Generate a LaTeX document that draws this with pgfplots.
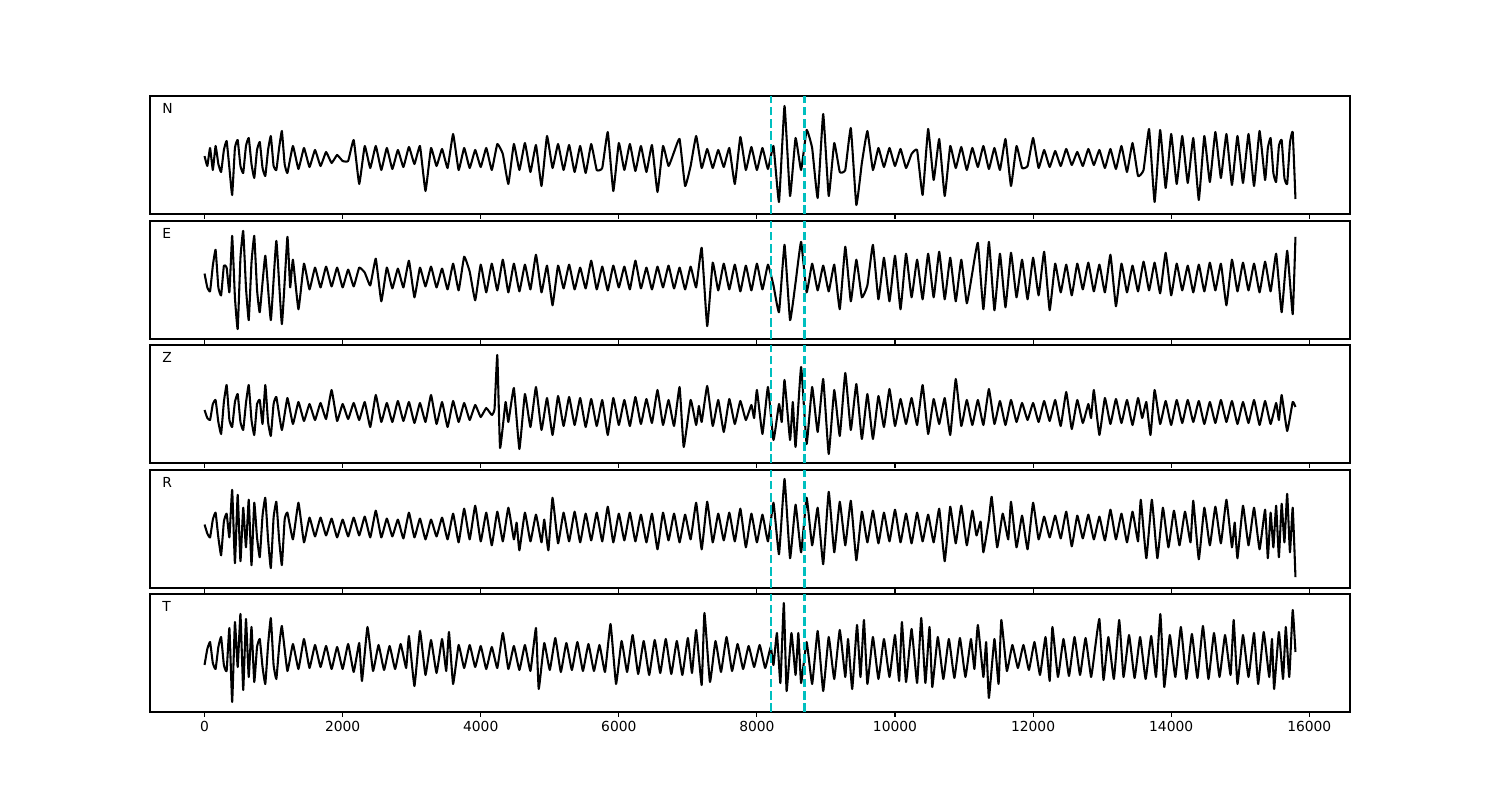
\documentclass[border=0pt]{standalone}
\usepackage{fontspec}
\setmainfont{DejaVu Sans}
\usepackage{pgfplots}
\pgfplotsset{compat=1.18}
\definecolor{vline}{rgb}{0,0.75,0.75}
\pgfplotsset{
 panel/.style={
  anchor=south west, scale only axis, width=12in, height=1.18in,
  xmin=-790, xmax=16590, xtick={0,2000,4000,6000,8000,10000,12000,14000,16000},
  scaled x ticks=false,
  ytick=\empty, xtick pos=left, tick align=outside, major tick length=3.5pt,
  every tick/.style={black, line width=0.8pt},
  axis line style={line width=0.8pt},
  tick label style={font=\fontsize{10}{12}\selectfont},
  /pgf/number format/assume math mode=true,
  /pgf/number format/1000 sep={},
 },
 nolabels/.style={xticklabels={}},
 trace/.style={black, line width=1.5pt, line join=round, mark=none, smooth, tension=0.2},
 marker/.style={vline, line width=1.6pt, dash pattern=on 6.3pt off 2.6pt},
}
\newcommand{\plabel}[1]{\node[anchor=base west, inner sep=0pt, font=\fontsize{10}{12}\selectfont] at (rel axis cs:0.01,0.85) {#1};}
\begin{document}
\begin{tikzpicture}
\path[use as bounding box] (0,0) rectangle (15in,8in);
% ---------------- N
\begin{axis}[panel, nolabels, at={(1.5in,5.86in)}, ymin=-56, ymax=62]
\addplot[trace] coordinates {
(0,2)(40,-8)(80,10)(120,-12)(160,12)(200,-6)(240,-14)(280,8)(320,17)(360,-10)(400,-37)(440,10)(480,18)(520,-8)(560,-15)(600,12)(640,20)(680,-6)(720,-20)
(760,8)(800,16)(840,-10)(880,-18)(920,8)(960,22)(1000,-8)(1040,-12)(1080,10)(1120,27)(1160,-6)(1200,-15)(1280,12)(1360,-11)(1440,10)(1520,-9)
(1600,8)(1680,-8)(1760,6)(1840,-5)(1920,3)(2000,-3)(2080,-3)(2160,18)(2240,-26)(2320,12)
(2400,-10)(2480,12)(2560,-12)(2640,10)(2720,-11)(2800,8)(2880,-9)(2960,11)(3040,-6)(3120,12)
(3200,-33)(3280,10)(3360,-8)(3440,9)(3520,-10)(3600,24)(3680,-12)(3760,10)(3840,-10)(3920,8)
(4000,-9)(4080,10)(4160,-12)(4240,14)(4320,4)(4400,-26)(4480,14)(4560,-12)(4640,15)(4720,-14)
(4800,13)(4880,-28)(4960,22)(5040,-10)(5120,14)(5200,-12)(5280,13)(5360,-14)(5440,12)(5520,-15)
(5600,14)(5680,-12)(5760,-10)(5840,26)(5920,-33)(6000,15)(6080,-12)(6160,14)(6240,-13)(6320,12)
(6400,-14)(6480,13)(6560,-34)(6640,12)(6720,-8)(6800,6)(6880,19)(6960,-28)(7040,-8)(7120,22)
(7200,-10)(7280,9)(7360,-10)(7440,8)(7520,-9)(7600,10)(7680,-26)(7760,21)(7840,-12)(7920,11)
(8000,-12)(8080,10)(8160,-11)(8240,12)(8320,-44)(8400,52)(8480,-38)(8560,20)(8640,-12)(8720,28)
(8800,10)(8880,-40)(8960,44)(9040,-38)(9120,15)(9200,-14)(9280,-12)(9360,30)(9440,-47)(9520,-5)
(9600,27)(9680,-12)(9760,10)(9840,-9)(9920,10)(10000,-8)(10080,9)(10160,-10)(10240,4)(10320,8)
(10400,-37)(10480,29)(10560,-22)(10640,19)(10720,-38)(10800,12)(10880,-10)(10960,11)(11040,-12)(11120,10)
(11200,-9)(11280,12)(11360,-11)(11440,10)(11520,-12)(11600,19)(11680,-28)(11760,12)(11840,-10)(11920,-8)
(12000,20)(12080,-10)(12160,8)(12240,-9)(12320,7)(12400,-8)(12480,9)(12560,-7)(12640,6)(12720,-8)
(12800,9)(12880,-7)(12960,8)(13040,-10)(13120,9)(13200,-11)(13280,12)(13360,-14)(13440,15)(13520,-18)
(13600,-12)(13680,29)(13760,-44)(13840,28)(13920,-30)(14000,24)(14080,-26)(14160,22)(14240,-25)(14320,20)
(14400,-42)(14480,22)(14560,-24)(14640,26)(14720,-20)(14800,24)(14880,-27)(14960,22)(15040,-25)(15120,24)
(15200,-28)(15280,27)(15360,-22)(15400,10)(15440,20)(15480,-15)(15520,-24)(15560,12)(15600,18)(15640,-20)(15680,-26)(15720,15)(15760,26)(15800,-41)
};
\addplot[marker] coordinates {(8200,-56)(8200,62)};
\addplot[marker] coordinates {(8690,-56)(8690,62)};
\plabel{N}
\end{axis}
% ---------------- E
\begin{axis}[panel, nolabels, at={(1.5in,4.61in)}, ymin=-62, ymax=57]
\addplot[trace] coordinates {
(0,4)(40,-10)(80,-14)(120,12)(160,28)(200,-10)(240,-18)(280,12)(320,10)(360,-15)(400,42)(440,-20)(480,-52)(520,20)(560,47)(600,-10)(640,-43)(680,15)(720,42)
(760,-12)(800,-35)(880,22)(960,-43)(1040,37)(1120,-47)(1200,41)(1240,-10)(1280,18)(1360,-32)(1440,14)(1520,-12)
(1600,10)(1680,-10)(1760,11)(1840,-9)(1920,10)(2000,-10)(2080,8)(2160,-9)(2240,10)(2320,5)
(2400,-8)(2480,19)(2560,-24)(2640,10)(2720,-11)(2800,9)(2880,-10)(2960,17)(3040,-20)(3120,10)
(3200,-9)(3280,11)(3360,-10)(3440,9)(3520,-12)(3600,14)(3680,-13)(3760,21)(3840,6)(3920,-23)
(4000,13)(4080,-15)(4160,14)(4240,-13)(4320,18)(4400,-15)(4480,14)(4560,-14)(4640,13)(4720,-12)
(4800,23)(4880,-15)(4960,12)(5040,-28)(5120,12)(5200,-11)(5280,13)(5360,-12)(5440,10)(5520,-11)
(5600,17)(5680,-12)(5760,11)(5840,-13)(5920,12)(6000,-10)(6080,11)(6160,-12)(6240,17)(6320,-11)
(6400,10)(6480,-12)(6560,11)(6640,-10)(6720,12)(6800,-11)(6880,10)(6960,-12)(7040,11)(7120,-10)
(7200,30)(7280,-49)(7360,15)(7440,-13)(7520,14)(7600,-12)(7680,13)(7760,-14)(7840,12)(7920,-13)
(8000,14)(8080,-12)(8160,13)(8240,-8)(8320,-35)(8400,33)(8480,-43)(8560,-5)(8640,36)(8720,-15)
(8800,14)(8880,-13)(8960,12)(9040,-14)(9120,13)(9200,-32)(9280,31)(9360,-24)(9440,18)(9520,-20)
(9600,-8)(9680,33)(9760,-22)(9840,20)(9920,-24)(10000,22)(10080,-32)(10160,24)(10240,-20)(10320,18)
(10400,-22)(10480,24)(10560,-20)(10640,26)(10720,-22)(10800,20)(10880,-24)(10960,18)(11040,-26)(11120,5)
(11200,35)(11280,-32)(11360,36)(11440,-33)(11520,24)(11600,-30)(11680,25)(11760,-20)(11840,18)(11920,-22)
(12000,20)(12080,-18)(12160,26)(12240,-33)(12320,14)(12400,-15)(12480,13)(12560,-18)(12640,14)(12720,-12)
(12800,15)(12880,-14)(12960,13)(13040,-15)(13120,23)(13200,-29)(13280,14)(13360,-15)(13440,12)(13520,-14)
(13600,16)(13680,-13)(13760,15)(13840,-16)(13920,25)(14000,-18)(14080,14)(14160,-13)(14240,12)(14320,-15)
(14400,13)(14480,-14)(14560,15)(14640,-13)(14720,14)(14800,-28)(14880,18)(14960,-14)(15040,15)(15120,-13)
(15200,14)(15280,-15)(15360,16)(15440,-14)(15520,24)(15600,-35)(15680,27)(15760,-37)(15800,41)
};
\addplot[marker] coordinates {(8200,-62)(8200,57)};
\addplot[marker] coordinates {(8690,-62)(8690,57)};
\plabel{E}
\end{axis}
% ---------------- Z
\begin{axis}[panel, nolabels, at={(1.5in,3.37in)}, ymin=-51, ymax=67]
\addplot[trace] coordinates {
(0,2)(40,-6)(80,-8)(120,8)(160,12)(200,-10)(240,-22)(280,10)(320,27)(360,-8)(400,-15)(440,10)(480,18)(520,-10)(560,-18)(600,9)(640,27)(680,-8)(720,-23)
(760,8)(800,12)(840,-12)(880,27)(920,-10)(960,-24)(1000,8)(1040,15)(1120,-18)(1200,14)(1280,-12)(1360,10)(1440,-9)(1520,8)
(1600,-8)(1680,9)(1760,-7)(1840,22)(1920,-9)(2000,8)(2080,-7)(2160,9)(2240,-8)(2320,10)
(2400,-15)(2480,17)(2560,-10)(2640,9)(2720,-10)(2800,11)(2880,-9)(2960,10)(3040,-11)(3120,9)
(3200,-10)(3280,17)(3360,-12)(3440,10)(3520,-15)(3600,11)(3680,-10)(3760,9)(3840,-8)(3920,7)
(4000,-5)(4080,4)(4160,-3)(4200,3)(4240,57)(4280,-36)(4360,10)(4400,-10)(4480,24)(4560,-37)(4640,18)(4720,-15)
(4800,25)(4880,-18)(4960,14)(5040,-23)(5120,16)(5200,-14)(5280,15)(5360,-13)(5440,14)(5520,-15)
(5600,13)(5680,-14)(5760,12)(5840,-23)(5920,14)(6000,-13)(6080,12)(6160,-14)(6240,15)(6320,-12)
(6400,13)(6480,-11)(6560,22)(6640,-13)(6720,12)(6800,-14)(6880,25)(6940,-35)(7040,12)(7120,-13)
(7160,6)(7200,-10)(7280,26)(7360,-14)(7440,12)(7520,-20)(7600,13)(7680,-12)(7760,11)(7840,-8)(7920,7)
(7960,-6)(8000,22)(8080,-22)(8160,25)(8240,-28)(8320,8)(8360,-10)(8400,32)(8480,-28)(8520,10)(8560,-35)(8640,45)(8720,-32)
(8800,25)(8880,-20)(8960,33)(9040,-42)(9120,22)(9200,-24)(9280,39)(9360,-18)(9440,28)(9520,-27)
(9600,18)(9680,-27)(9760,16)(9840,-15)(9920,23)(10000,-14)(10080,13)(10160,-12)(10240,14)(10320,-13)
(10400,27)(10480,-22)(10560,13)(10640,-12)(10720,14)(10800,-23)(10880,33)(10960,-14)(11040,12)(11120,-13)
(11200,12)(11280,-13)(11360,23)(11440,-12)(11520,11)(11600,-13)(11680,12)(11760,-10)(11840,9)(11920,-8)
(12000,9)(12080,-10)(12160,11)(12240,-9)(12320,12)(12400,-14)(12480,20)(12560,-17)(12640,12)(12720,-11)
(12800,8)(12840,-6)(12880,22)(12960,-23)(13040,14)(13120,-12)(13200,13)(13280,-11)(13360,12)(13440,-13)(13520,14)
(13580,-6)(13640,10)(13700,-23)(13760,22)(13840,-12)(13920,11)(14000,-13)(14080,12)(14160,-11)(14240,12)(14320,-10)
(14400,11)(14480,-12)(14560,10)(14640,-11)(14720,12)(14800,-10)(14880,11)(14960,-12)(15040,10)(15120,-11)
(15200,12)(15280,-13)(15360,11)(15440,-12)(15520,9)(15560,-8)(15600,17)(15680,-19)(15760,10)(15800,5)
};
\addplot[marker] coordinates {(8200,-51)(8200,67)};
\addplot[marker] coordinates {(8690,-51)(8690,67)};
\plabel{Z}
\end{axis}
% ---------------- R
\begin{axis}[panel, nolabels, at={(1.5in,2.12in)}, ymin=-61, ymax=58]
\addplot[trace] coordinates {
(0,3)(40,-6)(80,-10)(120,8)(160,15)(200,-10)(240,-28)(280,6)(320,14)(360,-10)(400,38)(440,-36)(480,33)(520,-34)(560,20)(600,-20)(640,28)(680,-38)(720,25)
(760,-10)(800,-30)(840,12)(880,30)(920,-12)(960,-41)(1000,10)(1040,26)(1080,-12)(1120,-38)(1160,8)(1200,15)(1280,-12)(1360,25)(1440,-15)(1520,10)
(1600,-9)(1680,10)(1760,-8)(1840,9)(1920,-10)(2000,8)(2080,-9)(2160,10)(2240,-8)(2320,11)
(2400,-10)(2480,17)(2560,-10)(2640,9)(2720,-9)(2800,8)(2880,-11)(2960,15)(3040,-10)(3120,9)
(3200,-12)(3280,8)(3360,-9)(3440,10)(3520,-12)(3600,14)(3680,-15)(3760,19)(3840,-12)(3920,22)
(4000,-14)(4080,15)(4160,-18)(4240,16)(4320,-14)(4400,20)(4480,-12)(4520,5)(4560,-23)(4640,15)(4720,-14)
(4800,13)(4880,-15)(4920,8)(4980,-23)(5040,30)(5120,-16)(5200,15)(5280,-14)(5360,16)(5440,-15)(5520,14)
(5600,-13)(5680,15)(5760,-14)(5840,21)(5920,-15)(6000,14)(6080,-13)(6160,15)(6240,-14)(6320,13)
(6400,-15)(6480,14)(6560,-22)(6640,15)(6720,-13)(6800,14)(6880,-15)(6960,13)(7040,-12)(7120,25)
(7200,-22)(7280,26)(7360,-15)(7440,14)(7520,-13)(7600,15)(7680,-14)(7760,19)(7840,-20)(7920,14)
(8000,-15)(8080,13)(8160,-14)(8240,25)(8320,-27)(8400,49)(8480,-31)(8560,23)(8640,-25)(8720,30)
(8800,-18)(8880,20)(8960,-37)(9040,36)(9120,-25)(9200,26)(9280,-18)(9360,27)(9440,-33)(9520,16)
(9600,-15)(9680,17)(9760,-16)(9840,15)(9920,-14)(10000,18)(10080,-15)(10160,14)(10240,-16)(10320,15)
(10400,-14)(10480,13)(10560,-15)(10640,19)(10720,-34)(10800,21)(10880,-16)(10960,22)(11040,-18)(11120,17)
(11180,-8)(11240,6)(11280,-25)(11360,8)(11400,31)(11480,-20)(11560,14)(11640,-12)(11680,26)(11760,-20)(11840,12)(11920,-22)
(12000,25)(12080,-12)(12160,11)(12240,-10)(12320,12)(12400,-11)(12480,16)(12560,-19)(12640,12)(12720,-11)
(12800,13)(12880,-12)(12960,11)(13040,-13)(13120,18)(13200,-12)(13280,14)(13360,-15)(13440,16)(13520,-14)
(13560,28)(13640,-31)(13720,28)(13800,-31)(13880,20)(13960,-20)(14040,17)(14120,-18)(14200,16)(14280,-15)
(14320,27)(14400,-32)(14480,20)(14560,-18)(14640,21)(14720,-16)(14800,28)(14880,-20)(14920,5)(14960,-31)(15040,22)(15120,-18)
(15200,20)(15280,-22)(15360,18)(15400,-31)(15440,15)(15480,-20)(15520,22)(15560,-30)(15600,24)(15640,-15)(15680,34)(15720,-25)(15760,20)(15800,-50)
};
\addplot[marker] coordinates {(8200,-61)(8200,58)};
\addplot[marker] coordinates {(8690,-61)(8690,58)};
\plabel{R}
\end{axis}
% ---------------- T
\begin{axis}[panel, at={(1.5in,0.88in)}, ymin=-55, ymax=63]
\addplot[trace] coordinates {
(0,-8)(40,8)(80,15)(120,-6)(160,-12)(200,10)(240,20)(280,-8)(320,-14)(360,29)(400,-45)(440,35)(480,-10)(520,43)(560,-33)(600,38)(640,-20)(680,30)(720,-25)
(760,10)(800,18)(840,-10)(880,-27)(920,12)(960,39)(1000,-8)(1040,-22)(1080,10)(1120,31)(1200,-14)(1280,13)(1360,-12)(1440,18)(1520,-11)
(1600,12)(1680,-10)(1760,11)(1840,-12)(1920,10)(2000,-12)(2080,13)(2160,-15)(2240,14)(2280,-24)(2360,30)
(2440,-14)(2520,12)(2600,-13)(2680,11)(2760,-12)(2840,13)(2920,-11)(2960,21)(3040,-29)(3120,26)
(3200,-18)(3280,17)(3360,-16)(3440,18)(3500,-14)(3540,25)(3600,-27)(3680,12)(3760,-11)(3840,12)(3920,-10)
(4000,11)(4080,-12)(4160,10)(4240,-11)(4320,24)(4400,-12)(4480,11)(4560,-13)(4640,12)(4720,-14)
(4800,29)(4840,-32)(4920,14)(5000,-13)(5080,19)(5160,-15)(5240,14)(5320,-13)(5400,15)(5480,-14)
(5560,13)(5640,-14)(5720,12)(5800,-15)(5880,33)(5960,-27)(6040,16)(6120,-15)(6200,22)(6280,-17)
(6360,16)(6440,-18)(6520,17)(6600,-16)(6680,18)(6760,-17)(6840,16)(6920,-18)(7000,19)(7060,-16)(7120,27)
(7200,-28)(7240,44)(7320,-25)(7400,16)(7480,-15)(7560,20)(7640,-14)(7720,13)(7800,-12)(7880,11)(7960,-10)
(8040,12)(8120,-11)(8200,10)(8240,-8)(8290,24)(8340,-26)(8390,54)(8430,-34)(8500,24)(8560,-18)(8600,24)(8640,-26)(8720,15)
(8800,-27)(8880,26)(8960,-34)(9040,20)(9120,-22)(9200,27)(9280,-20)(9320,18)(9380,-32)(9450,32)(9500,-20)(9550,37)(9600,-27)
(9680,20)(9760,-22)(9840,18)(9920,-20)(10000,22)(10060,-24)(10100,35)(10160,-25)(10240,28)(10320,-26)
(10380,39)(10440,-26)(10500,30)(10540,-30)(10620,20)(10700,-22)(10780,18)(10860,-21)(10940,19)(11020,-20)(11100,18)
(11150,-12)(11200,32)(11280,-20)(11320,15)(11360,-41)(11440,18)(11500,-27)(11540,37)(11620,-14)(11700,12)(11780,-11)(11860,12)(11940,-13)
(12020,15)(12100,-18)(12180,20)(12240,-24)(12280,30)(12360,-20)(12440,18)(12520,-19)(12600,20)(12680,-18)
(12760,19)(12840,-20)(12900,10)(12960,38)(13020,-23)(13090,20)(13170,-22)(13247,37)(13310,-20)(13390,22)(13470,-21)
(13550,20)(13630,-22)(13710,21)(13780,-20)(13843,43)(13900,-30)(13980,22)(14060,-20)(14140,30)(14220,-22)(14300,23)
(14380,-21)(14460,31)(14540,-22)(14620,24)(14700,-20)(14780,22)(14860,-18)(14905,37)(14960,-27)(15040,22)(15120,-20)
(15200,24)(15260,-27)(15340,25)(15420,-20)(15460,18)(15491,-32)(15560,25)(15620,-22)(15660,30)(15710,-20)(15760,47)(15800,5)
};
\addplot[marker] coordinates {(8200,-55)(8200,63)};
\addplot[marker] coordinates {(8690,-55)(8690,63)};
\plabel{T}
\end{axis}
\end{tikzpicture}
\end{document}
